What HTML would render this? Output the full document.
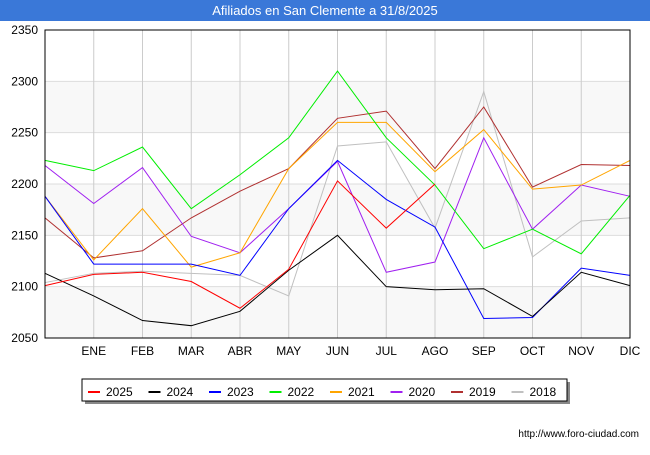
<!DOCTYPE html>
<html><head><meta charset="utf-8"><style>
body{margin:0;width:650px;height:450px;background:#fff;font-family:"Liberation Sans",sans-serif;overflow:hidden}
</style></head><body>
<svg width="650" height="450" xmlns="http://www.w3.org/2000/svg">
<rect x="0" y="0" width="650" height="21" fill="#3a78d8"/>
<text x="325" y="15" text-anchor="middle" font-size="13" fill="#fff" font-family="Liberation Sans, sans-serif">Afiliados en San Clemente a 31/8/2025</text>
<g id="plot"></g>
<g id="legend"></g>
<text x="639" y="437" text-anchor="end" font-size="10" fill="#000" font-family="Liberation Sans, sans-serif">http://www.foro-ciudad.com</text>
</svg>
<script>
const months=["","ENE","FEB","MAR","ABR","MAY","JUN","JUL","AGO","SEP","OCT","NOV","DIC"];
const yTicks=[2050,2100,2150,2200,2250,2300,2350];
const seriesNames=["2025","2024","2023","2022","2021","2020","2019","2018"];
const seriesColors=["#ff0000","#000000","#0000ff","#00ee00","#ffa500","#a020f0","#b03030","#c0c0c0"];
const s2025=[2101,2112,2114,2105,2079,2117,2203,2157,2200];
const s2024=[2113,2091,2067,2062,2076,2116,2150,2100,2097,2098,2071,2114,2101];
const s2023=[2188,2122,2122,2122,2111,2176,2223,2185,2158,2069,2070,2118,2111];
const s2022=[2223,2213,2236,2176,2209,2245,2310,2245,2199,2137,2156,2132,2189];
const s2021=[2188,2126,2176,2119,2133,2215,2260,2260,2212,2253,2195,2199,2223];
const s2020=[2218,2181,2216,2149,2133,2176,2222,2114,2124,2245,2156,2199,2188];
const s2019=[2167,2128,2135,2167,2193,2215,2264,2271,2215,2275,2197,2219,2218];
const s2018=[2104,2113,2115,2113,2111,2091,2237,2241,2157,2290,2129,2164,2167];
const allSeries=[s2025,s2024,s2023,s2022,s2021,s2020,s2019,s2018];
const NS="http://www.w3.org/2000/svg";
const L=45,R=630,T=30,B=338;
const x=i=>L+i*(R-L)/12;
const y=v=>B-(v-2050)*(B-T)/300;
const plot=document.getElementById('plot');
function mk(tag,attrs,parent){const e=document.createElementNS(NS,tag);for(const k in attrs)e.setAttribute(k,attrs[k]);parent.appendChild(e);return e;}
for(let i=0;i<yTicks.length-1;i++){
  if(i%2===0){const r=mk('rect',{x:L,y:y(yTicks[i+1]),width:R-L,height:y(yTicks[i])-y(yTicks[i+1]),fill:'#f8f8f8'},plot);
  
  }
}
yTicks.forEach(t=>{
  const g=mk('line',{x1:L,x2:R,y1:y(t),y2:y(t),stroke:'#dddddd','stroke-width':1},plot);
  
  
  const tx=mk('text',{x:L-7,y:y(t)+4,'text-anchor':'end','font-size':12,fill:'#000'},plot);
  tx.textContent=t;
  
  
});
months.forEach((m,i)=>{
  if(i===0)return;
  const g=mk('line',{x1:x(i),x2:x(i),y1:T,y2:B,stroke:'#cccccc','stroke-width':1},plot);
  
  
  const tx=mk('text',{x:x(i),y:B+17,'text-anchor':'middle','font-size':12,fill:'#000'},plot);
  tx.textContent=m;
  
  
});
for(let k=allSeries.length-1;k>=0;k--){
  const d=allSeries[k].map((v,i)=>(i?'L':'M')+x(i)+','+y(v)).join(' ');
  const p=mk('path',{d:d,fill:'none',stroke:seriesColors[k],'stroke-width':1},plot);
  
  
}
const fr=mk('rect',{x:L,y:T,width:R-L,height:B-T,fill:'none',stroke:'#000','stroke-width':1},plot);


const lg=document.getElementById('legend');
const sh=mk('rect',{x:85,y:382,width:485,height:22,fill:'#888'},lg);


const lb=mk('rect',{x:82,y:379,width:485,height:22,fill:'#fff',stroke:'#000','stroke-width':1},lg);


seriesNames.forEach((n,k)=>{
  const lx=88+k*60.5;
  const ln=mk('line',{x1:lx,x2:lx+12,y1:392,y2:392,stroke:seriesColors[k],'stroke-width':2},lg);
  
  
  const t=mk('text',{x:lx+18,y:396,'font-size':12,fill:'#000'},lg);
  t.textContent=n;
  
  
});
</script>
</body></html>
